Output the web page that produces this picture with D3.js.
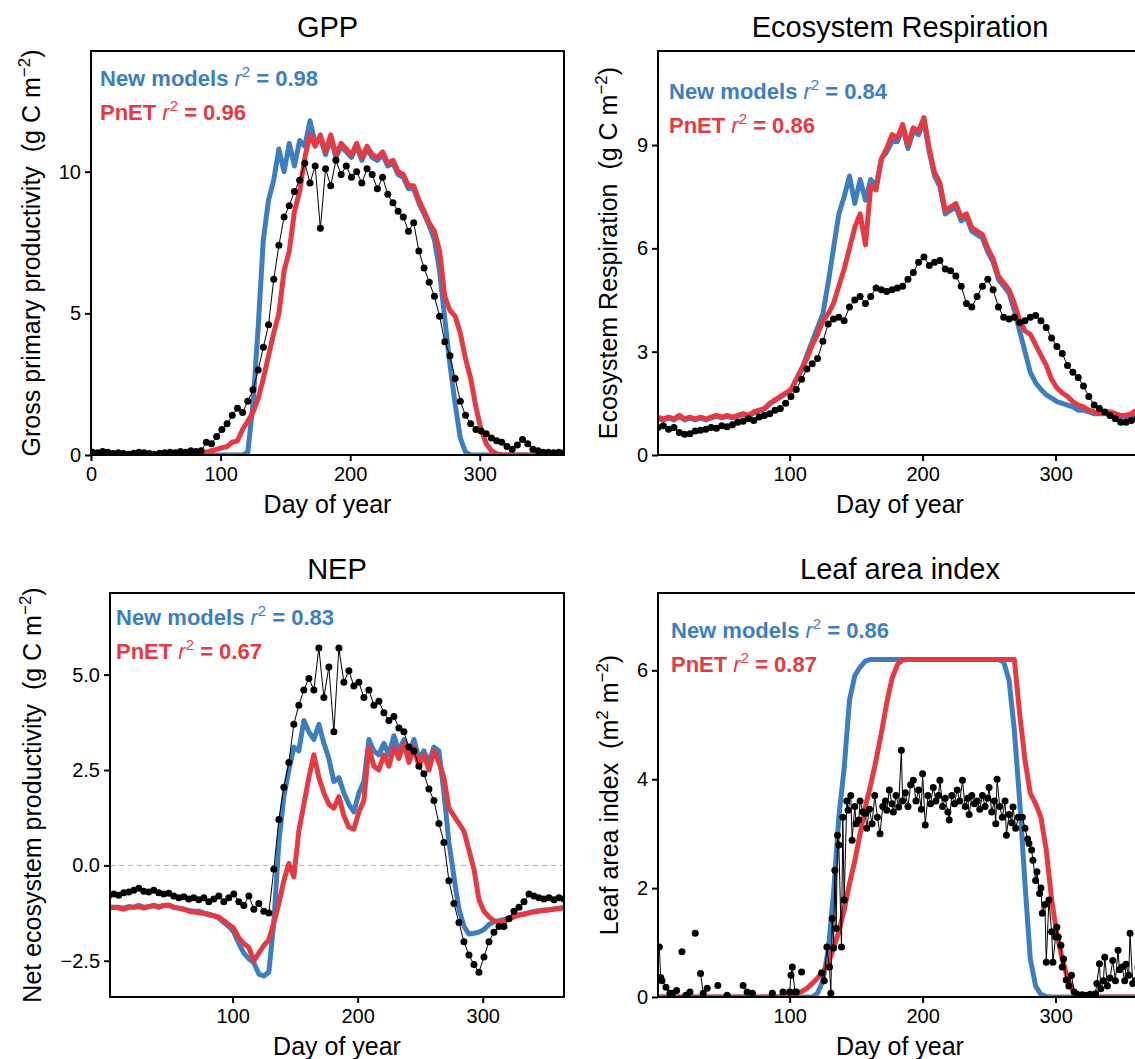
<!DOCTYPE html>
<html lang="en">
<head>
<meta charset="utf-8">
<title>Model vs observed carbon fluxes</title>
<script src="https://d3js.org/d3.v7.min.js"></script>
<style>
  body { margin: 0; background: #fff; }
  svg { font-family: "Liberation Sans", Arial, Helvetica, sans-serif; }
  .tick text { font-size: 20px; fill: #000; }
  .axis-title { font-size: 25px; white-space: pre; }
  .panel-title { font-size: 29px; }
  .legend { font-size: 22px; font-weight: bold; white-space: pre; }
</style>
</head>
<body>
<script>
// day of year for the model runs and the flux tower series (every 4th day)
const days = [
  1,5,9,13,17,21,25,29,33,37,
  41,45,49,53,57,61,65,69,73,77,
  81,85,89,93,97,101,105,109,113,117,
  121,125,129,133,137,141,145,149,153,157,
  161,165,169,173,177,181,185,189,193,197,
  201,205,209,213,217,221,225,229,233,237,
  241,245,249,253,257,261,265,269,273,277,
  281,285,289,293,297,301,305,309,313,317,
  321,325,329,333,337,341,345,349,353,357,
  361,365];

// GPP
const gppObs = [
  0.1,0.08,0.12,0.1,0.05,0.08,0.05,0.03,0.06,0.1,
  0.08,0.05,0.03,0.06,0.08,0.1,0.08,0.12,0.1,0.15,
  0.12,0.15,0.45,0.4,0.65,0.9,1.1,1.4,1.65,1.5,
  1.9,2.3,3.0,3.8,4.6,6.2,7.4,8.4,8.8,9.3,
  9.7,10.3,9.6,10.2,8.0,10.1,9.5,10.4,9.9,10.2,
  9.8,10.0,9.6,10.1,9.9,9.4,9.8,9.2,8.9,8.6,
  8.4,7.9,8.2,7.2,6.6,6.1,5.6,4.9,4.0,3.5,
  2.7,1.9,1.4,1.1,0.9,0.85,0.75,0.6,0.5,0.45,
  0.3,0.2,0.35,0.55,0.4,0.2,0.15,0.1,0.1,0.08,
  0.1,0.08];
const gppNew = [
  0,0,0,0,0,0,0,0,0,0,
  0,0,0,0,0,0,0,0,0,0,
  0,0,0,0,0,0,0,0,0,0,
  0.1,1.8,4.5,7.6,9.0,9.7,10.8,10.0,11.0,10.2,
  11.1,10.9,11.8,11.0,11.2,10.6,11.2,10.5,10.9,10.7,
  10.5,10.9,10.4,10.8,10.5,10.4,10.6,10.2,10.3,9.9,
  9.8,9.4,9.4,8.9,8.5,8.1,7.6,6.5,4.8,3.2,
  1.8,0.6,0.1,0,0,0,0,0,0,0,
  0,0,0,0,0,0,0,0,0,0,
  0,0];
const gppPnet = [
  0,0,0,0,0,0,0,0,0,0,
  0,0,0,0,0,0,0,0,0,0,
  0.02,0.05,0.1,0.15,0.2,0.25,0.3,0.45,0.5,0.9,
  1.2,1.5,2.0,2.7,3.5,4.3,5.0,6.5,7.2,8.6,
  9.3,10.5,11.3,10.9,11.3,10.7,11.3,10.6,11.0,10.8,
  10.6,11.0,10.5,10.9,10.6,10.5,10.7,10.3,10.4,10.0,
  9.9,9.5,9.5,9.0,8.6,8.2,7.9,7.2,5.6,5.1,
  4.9,4.3,3.4,2.7,1.7,0.9,0.4,0.15,0.05,0,
  0,0,0,0,0,0,0,0,0,0,
  0,0];

// Ecosystem respiration
const erObs = [
  0.8,0.85,0.75,0.8,0.65,0.6,0.62,0.7,0.72,0.75,
  0.8,0.78,0.85,0.82,0.88,0.95,0.98,1.05,1.0,1.1,
  1.15,1.2,1.3,1.35,1.5,1.7,1.9,2.2,2.5,2.65,
  2.8,3.3,3.8,3.95,4.0,3.9,4.3,4.5,4.6,4.4,
  4.6,4.85,4.8,4.75,4.8,4.85,4.9,5.1,5.3,5.6,
  5.75,5.5,5.6,5.65,5.4,5.35,5.2,4.9,4.4,4.3,
  4.6,4.9,5.1,4.8,4.3,4.0,3.95,4.0,3.85,3.9,
  4.0,4.05,3.9,3.7,3.4,3.15,2.95,2.6,2.4,2.25,
  2.0,1.7,1.45,1.35,1.25,1.15,1.05,0.95,0.95,1.0,
  1.05,1.1];
const erNew = [
  1.05,1.02,1.08,1.02,1.12,1.02,1.08,1.02,1.08,1.02,
  1.08,1.12,1.08,1.12,1.08,1.12,1.18,1.12,1.22,1.28,
  1.33,1.48,1.58,1.68,1.78,1.88,2.18,2.48,2.9,3.3,
  3.7,4.1,5.0,6.0,7.0,7.5,8.1,7.3,8.0,7.4,
  8.0,7.8,8.6,8.8,9.1,9.1,9.5,8.9,9.4,9.3,
  9.7,8.8,8.1,7.8,7.0,7.1,7.2,6.8,6.9,6.5,
  6.4,6.3,5.9,5.6,5.1,4.9,4.7,4.2,3.6,3.0,
  2.4,2.1,1.9,1.75,1.65,1.55,1.5,1.45,1.4,1.3,
  1.3,1.25,1.2,1.2,1.2,1.2,1.15,1.1,1.1,1.15,
  1.25,1.25];
const erPnet = [
  1.1,1.05,1.1,1.05,1.15,1.05,1.1,1.05,1.1,1.05,
  1.1,1.15,1.1,1.15,1.1,1.15,1.2,1.15,1.25,1.3,
  1.35,1.5,1.6,1.7,1.8,1.9,2.2,2.5,2.8,3.2,
  3.5,3.9,4.1,4.4,4.9,5.4,6.0,6.6,7.0,6.1,
  7.8,7.7,8.6,8.9,9.3,9.2,9.6,9.0,9.5,9.4,
  9.8,8.9,8.2,7.9,7.1,7.2,7.3,6.9,7.0,6.6,
  6.5,6.4,6.0,5.7,5.2,5.0,4.8,4.4,3.9,3.6,
  3.5,3.2,2.9,2.6,2.2,1.95,1.8,1.7,1.55,1.45,
  1.4,1.3,1.25,1.2,1.25,1.25,1.2,1.15,1.15,1.2,
  1.3,1.3];

// NEP
const nepObs = [
  -0.8,-0.75,-0.78,-0.72,-0.7,-0.65,-0.6,-0.68,-0.7,-0.65,
  -0.72,-0.75,-0.73,-0.8,-0.85,-0.82,-0.88,-0.85,-0.9,-0.85,
  -0.95,-0.88,-0.8,-0.95,-0.85,-0.75,-0.95,-1.05,-0.8,-1.15,
  -1.0,-1.2,-1.25,-0.1,1.2,2.05,2.7,3.7,4.2,4.6,
  4.9,4.6,5.7,4.4,5.2,3.5,5.7,4.8,5.1,4.7,
  4.8,4.4,4.6,4.2,4.3,4.0,3.8,3.9,3.6,3.5,
  3.1,3.0,2.6,2.4,2.0,1.7,1.1,0.6,-0.4,-1.0,
  -1.5,-2.0,-2.35,-2.6,-2.8,-2.4,-2.0,-1.75,-1.6,-1.6,
  -1.4,-1.2,-1.1,-0.95,-0.75,-0.8,-0.85,-0.88,-0.85,-0.9,
  -0.85,-0.88];
const nepNew = [
  -1.08,-1.1,-1.1,-1.12,-1.08,-1.1,-1.05,-1.1,-1.08,-1.05,
  -1.08,-1.05,-1.05,-1.1,-1.12,-1.15,-1.18,-1.2,-1.2,-1.25,
  -1.28,-1.32,-1.38,-1.5,-1.6,-1.75,-2.05,-2.3,-2.45,-2.55,
  -2.85,-2.9,-2.8,-1.5,0.6,1.8,2.5,3.1,3.0,3.8,
  3.5,3.3,3.7,3.2,2.8,2.2,2.3,1.9,1.6,1.4,
  1.9,2.2,3.3,3.0,2.9,3.2,2.9,3.4,3.0,3.3,
  2.9,3.3,2.8,3.0,2.7,3.1,3.0,1.9,0.6,-0.3,
  -1.15,-1.6,-1.8,-1.78,-1.75,-1.68,-1.55,-1.48,-1.45,-1.42,
  -1.38,-1.33,-1.3,-1.27,-1.24,-1.21,-1.19,-1.17,-1.16,-1.14,
  -1.12,-1.1];
const nepPnet = [
  -1.12,-1.1,-1.12,-1.15,-1.1,-1.1,-1.08,-1.12,-1.08,-1.05,
  -1.1,-1.05,-1.04,-1.1,-1.12,-1.15,-1.2,-1.22,-1.25,-1.25,
  -1.3,-1.32,-1.35,-1.45,-1.55,-1.65,-1.9,-2.05,-2.15,-2.5,
  -2.3,-2.1,-1.95,-1.5,-1.0,-0.4,0.05,-0.3,0.9,1.6,
  2.3,2.9,2.3,1.9,1.6,1.5,1.8,1.3,1.0,0.95,
  1.4,1.7,3.1,2.6,2.5,2.9,2.6,3.1,2.8,3.2,
  2.7,3.1,2.6,2.9,2.5,3.0,2.7,2.3,1.5,1.3,
  1.1,0.9,0.4,-0.1,-0.9,-1.2,-1.35,-1.45,-1.48,-1.45,
  -1.4,-1.35,-1.3,-1.28,-1.25,-1.22,-1.2,-1.18,-1.17,-1.15,
  -1.13,-1.12];

// Leaf area index
const laiNew = [
  0,0,0,0,0,0,0,0,0,0,
  0,0,0,0,0,0,0,0,0,0,
  0,0,0,0,0,0,0,0,0,0,
  0.07,0.3,0.85,1.9,3.3,4.2,5.45,5.9,6.06,6.17,
  6.2,6.2,6.2,6.2,6.2,6.2,6.2,6.2,6.2,6.2,
  6.2,6.2,6.2,6.2,6.2,6.2,6.2,6.2,6.2,6.2,
  6.2,6.2,6.2,6.2,6.2,6.15,5.82,4.9,3.6,2.08,
  0.7,0.2,0.05,0.01,0,0,0,0,0,0,
  0,0,0,0,0,0,0,0,0,0,
  0,0];
const laiPnet = [
  0,0,0,0,0,0,0,0,0,0,
  0,0,0,0,0,0,0,0,0,0,
  0,0,0,0.01,0.03,0.05,0.07,0.1,0.16,0.25,
  0.35,0.46,0.6,0.9,1.2,1.6,2.08,2.5,3.0,3.5,
  3.9,4.35,4.85,5.4,5.85,6.1,6.2,6.2,6.2,6.2,
  6.2,6.2,6.2,6.2,6.2,6.2,6.2,6.2,6.2,6.2,
  6.2,6.2,6.2,6.2,6.2,6.2,6.2,6.2,5.2,4.35,
  3.74,3.55,3.3,2.7,1.8,1.15,0.7,0.35,0.12,0.03,
  0,0,0,0,0,0,0,0,0,0,
  0,0];
// observed LAI: [day, value], null = gap in the record
const laiObsPts = [
  [2,0.92],[3,0.36],[4,0.3],[7,0.18],[10,0.07],[12,0.07],[15,0.12],[17,null],[19,0.83],[20,null],
  [22,0.03],[25,0.09],[27,null],[29,1.17],[31,null],[33,0.43],[35,0.07],[38,0.16],[42,null],[46,0.21],
  [49,null],[53,0.03],[60,null],[65,0.21],[68,0.09],[72,0.07],[80,null],[87,0.07],[90,null],[95,0.09],
  [100,0.09],[101,0.4],[102,0.55],[104,0.09],[105,0.09],[107,null],[109,0.46],[115,null],
  [124,0.44],[126,0.3],[128,0.92],[130,0.55],[131,0.07],[132,1.44],[133,0.9],[134,2.33],[135,1.26],[136,2.97],
  [137,2.79],[139,0.92],[140,3.3],[141,1.78],[143,3.6],[144,3.43],[146,3.7],[147,2.88],[149,3.5],[150,3.18],
  [152,3.25],[153,3.6],[155,3.4],[157,3.37],[158,3.1],[160,3.45],[162,3.18],[164,3.7],[166,3.3],[168,3.0],
  [170,3.5],[172,3.6],[173,3.43],[175,3.8],[177,3.55],[178,3.4],[180,3.7],[182,3.49],[184,4.53],[185,3.6],
  [187,3.75],[189,3.5],[191,3.9],[193,3.98],[195,3.6],[197,3.8],[199,3.45],[200,4.1],[202,3.16],[204,3.7],
  [206,3.55],[208,3.85],[210,3.6],[212,3.7],[213,3.98],[215,3.5],[217,3.65],[219,3.4],[220,3.25],[222,3.7],
  [224,3.55],[226,3.8],[228,3.6],[230,3.98],[232,3.5],[234,3.65],[235,3.35],[237,3.7],[239,3.55],[241,3.6],
  [243,3.45],[245,3.7],[247,3.5],[249,3.65],[250,3.85],[252,3.4],[254,3.6],[255,3.18],[256,4.0],[258,3.5],
  [260,3.3],[262,3.6],[263,2.97],[265,3.35],[267,3.2],[268,3.49],[270,3.1],[272,3.3],[275,3.3],[277,3.1],
  [279,2.9],[280,2.82],[282,2.7],[283,2.51],[285,2.14],[286,2.3],[288,1.9],[289,2.0],[290,1.54],[292,1.7],
  [293,0.64],[295,1.78],[297,1.2],[298,0.64],[300,1.1],[301,1.28],[302,1.1],[304,0.95],[305,0.55],[306,0.7],
  [308,0.31],[310,0.2],[312,0.4],[314,0.09],[316,0.05],[318,0.03],[320,0.04],[323,0.03],[326,0.05],[328,0.02],
  [330,0.06],[331,0.25],[333,0.61],[334,0.15],[336,0.3],[337,0.73],[339,0.2],[341,0.35],[343,0.67],[345,0.3],
  [347,0.86],[348,0.5],[350,0.55],[352,0.3],[353,0.6],[355,0.4],[356,1.17],[358,0.25],[360,0.3],[362,0.55],
  [364,0.2]];

// goodness of fit shown in each panel
const r2New  = ["0.98", "0.84", "0.83", "0.86"];
const r2Pnet = ["0.96", "0.86", "0.67", "0.87"];

const blue = "#3d7ec1", red = "#e63a42";
const W = 1135, H = 1059;

const pair = arr => days.map((d, i) => [d, arr[i]]);

const panels = [
  {key: "gpp", title: "GPP", ylab: [["Gross primary productivity  (g C m"], ["\u22122", 1], [")"]],
   left: 91, right: 564, top: 51, bottom: 455, xdom: [0, 365], ydom: [0, 14.26],
   xticks: [0, 100, 200, 300], yticks: [0, 5, 10], yfmt: d3.format("d"), ylabX: 40,
   legX: 100, legY: 86, obs: pair(gppObs), nw: pair(gppNew), pn: pair(gppPnet)},
  {key: "er", title: "Ecosystem Respiration", ylab: [["Ecosystem Respiration  (g C m"], ["\u22122", 1], [")"]],
   left: 658, right: 1142, top: 51, bottom: 455, xdom: [1, 365], ydom: [0, 11.73],
   xticks: [100, 200, 300], yticks: [0, 3, 6, 9], yfmt: d3.format("d"), ylabX: 617,
   legX: 669, legY: 99, obs: pair(erObs), nw: pair(erNew), pn: pair(erPnet)},
  {key: "nep", title: "NEP", ylab: [["Net ecosystem productivity  (g C m"], ["\u22122", 1], [")"]],
   left: 110, right: 564, top: 593, bottom: 997, xdom: [2, 365], ydom: [-3.45, 7.14],
   xticks: [100, 200, 300], yticks: [-2.5, 0, 2.5, 5], yfmt: d3.format(".1f"), ylabX: 41,
   legX: 116, legY: 625, zero: true, obs: pair(nepObs), nw: pair(nepNew), pn: pair(nepPnet)},
  {key: "lai", title: "Leaf area index", ylab: [["Leaf area index  (m"], ["2", 1], [" m"], ["\u22122", 1], [")"]],
   left: 658, right: 1142, top: 593, bottom: 997, xdom: [1, 365], ydom: [0, 7.42],
   xticks: [100, 200, 300], yticks: [0, 2, 4, 6], yfmt: d3.format("d"), ylabX: 618,
   legX: 671, legY: 638, obs: laiObsPts, nw: pair(laiNew), pn: pair(laiPnet)}
];

const svg = d3.select("body").append("svg").attr("width", W).attr("height", H);
const defs = svg.append("defs");

panels.forEach((p, pi) => {
  const x = d3.scaleLinear().domain(p.xdom).range([p.left, p.right]);
  const y = d3.scaleLinear().domain(p.ydom).range([p.bottom, p.top]);
  const g = svg.append("g").attr("class", "panel " + p.key);

  defs.append("clipPath").attr("id", "clip-" + p.key)
    .append("rect").attr("x", p.left).attr("y", p.top)
    .attr("width", p.right - p.left).attr("height", p.bottom - p.top);
  const plot = g.append("g").attr("clip-path", `url(#clip-${p.key})`);

  if (p.zero) {
    plot.append("line")
      .attr("x1", p.left).attr("x2", p.right).attr("y1", y(0)).attr("y2", y(0))
      .attr("stroke", "#b0b0b0").attr("stroke-width", 1).attr("stroke-dasharray", "5,4");
  }

  const line = d3.line().defined(d => d[1] != null).x(d => x(d[0])).y(d => y(d[1]));

  plot.append("path").datum(p.nw).attr("d", line)
    .attr("fill", "none").attr("stroke", blue).attr("stroke-width", 5)
    .attr("stroke-linejoin", "round");
  plot.append("path").datum(p.pn).attr("d", line)
    .attr("fill", "none").attr("stroke", red).attr("stroke-width", 5)
    .attr("stroke-linejoin", "round");

  plot.append("path").datum(p.obs).attr("d", line)
    .attr("fill", "none").attr("stroke", "#000").attr("stroke-width", 1);
  plot.selectAll("circle").data(p.obs.filter(d => d[1] != null)).join("circle")
    .attr("cx", d => x(d[0])).attr("cy", d => y(d[1])).attr("r", 3.5).attr("fill", "#000");

  // box
  g.append("rect").attr("x", p.left).attr("y", p.top)
    .attr("width", p.right - p.left).attr("height", p.bottom - p.top)
    .attr("fill", "none").attr("stroke", "#000").attr("stroke-width", 2);

  // axes
  const xa = g.append("g").attr("transform", `translate(0,${p.bottom})`)
    .call(d3.axisBottom(x).tickValues(p.xticks).tickSize(6).tickPadding(6).tickSizeOuter(0));
  const ya = g.append("g").attr("transform", `translate(${p.left},0)`)
    .call(d3.axisLeft(y).tickValues(p.yticks).tickFormat(p.yfmt).tickSize(6).tickPadding(4).tickSizeOuter(0));
  [xa, ya].forEach(a => {
    a.attr("font-size", null).attr("font-family", null);
    a.select(".domain").remove();
    a.selectAll(".tick line").attr("stroke", "#000").attr("stroke-width", 2);
  });

  // titles
  g.append("text").attr("class", "panel-title")
    .attr("x", (p.left + p.right) / 2).attr("y", p.top - 14)
    .attr("text-anchor", "middle").text(p.title);
  g.append("text").attr("class", "axis-title")
    .attr("x", (p.left + p.right) / 2).attr("y", p.bottom + 58)
    .attr("text-anchor", "middle").text("Day of year");

  const yl = g.append("text").attr("class", "axis-title")
    .attr("text-anchor", "middle")
    .attr("transform", `translate(${p.ylabX},${(p.top + p.bottom) / 2}) rotate(-90)`);
  let raised = false;
  p.ylab.forEach(([t, sup]) => {
    const ts = yl.append("tspan").text(t);
    if (sup) { ts.attr("font-size", 17).attr("dy", raised ? 0 : -10); raised = true; }
    else if (raised) { ts.attr("dy", 10); raised = false; }
  });

  // legend
  [[`New models `, r2New[pi], blue, 0], [`PnET `, r2Pnet[pi], red, 34]].forEach(([lab, r2, col, off]) => {
    const t = g.append("text").attr("class", "legend")
      .attr("x", p.legX).attr("y", p.legY + off).attr("fill", col);
    t.append("tspan").text(lab);
    t.append("tspan").attr("font-style", "italic").attr("font-weight", "normal").text("r");
    t.append("tspan").attr("font-weight", "normal").attr("font-size", 15).attr("dy", -9).text("2");
    t.append("tspan").attr("dy", 9).text(" = " + r2);
  });
});
</script>
</body>
</html>
